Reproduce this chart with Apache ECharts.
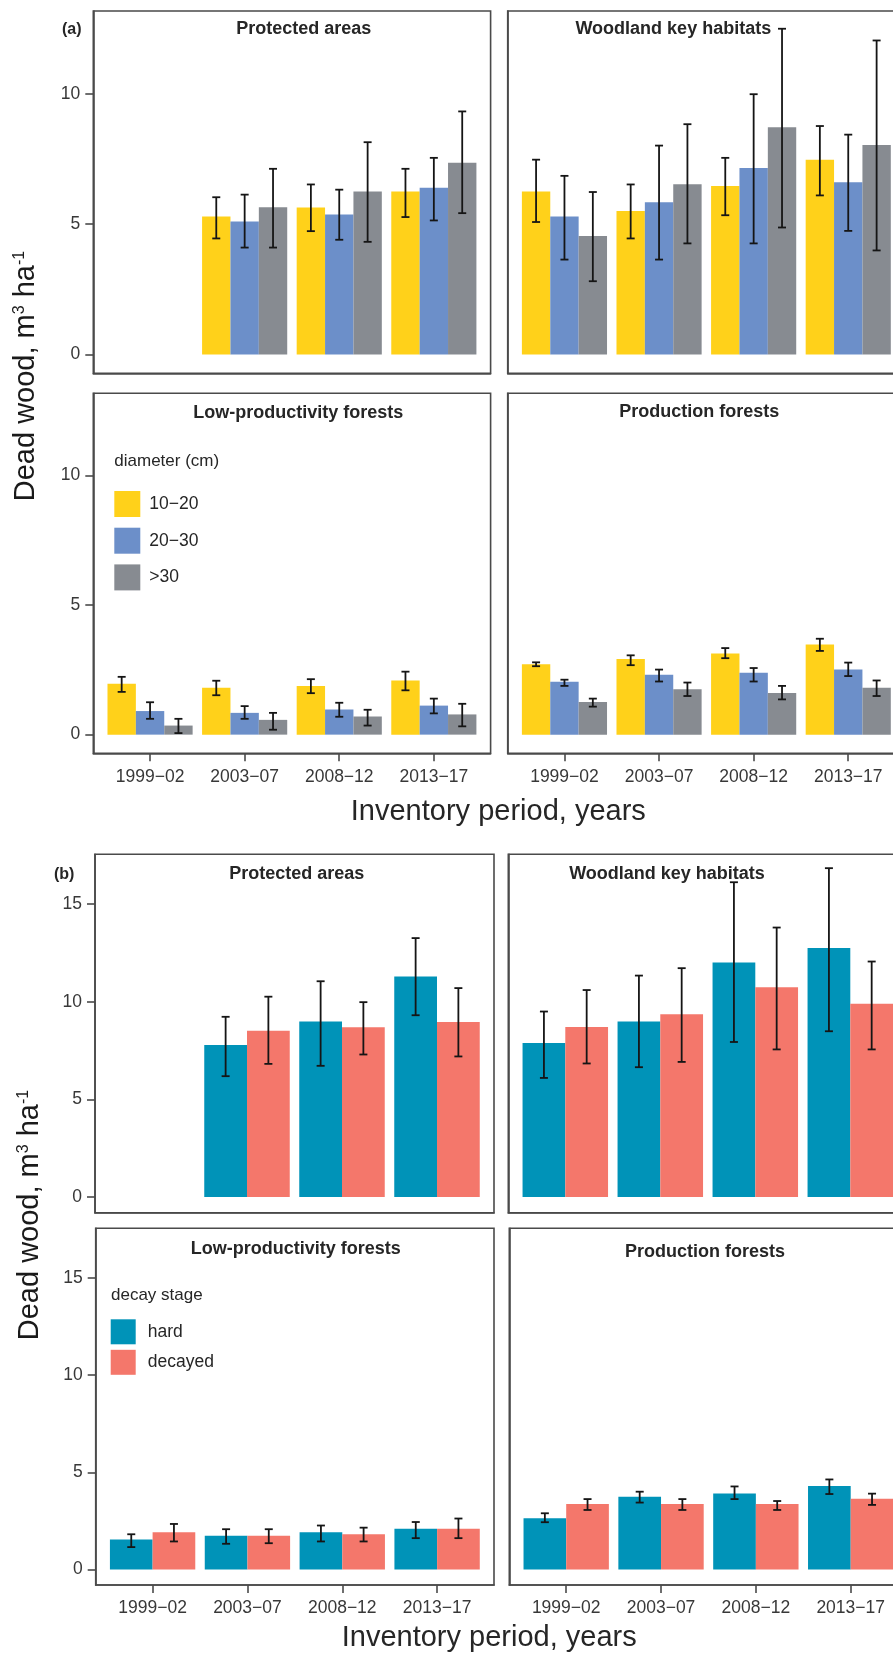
<!DOCTYPE html>
<html>
<head>
<meta charset="utf-8">
<script src="https://cdn.jsdelivr.net/npm/echarts@6/dist/echarts.min.js"></script>
<style>
html,body{margin:0;padding:0;background:#fff;}
#c{width:893px;height:1656px;}
</style>
</head>
<body>
<div id="c"></div>
<script>
// ---------- categories / labels ----------
const periods = ['1999\u221202', '2003\u221207', '2008\u221212', '2013\u221217'];
const panelNames = ['Protected areas', 'Woodland key habitats', 'Low-productivity forests', 'Production forests'];
const diamGroups = ['10\u221220', '20\u221230', '>30'];
const decayGroups = ['hard', 'decayed'];
const yTicksA = [0, 5, 10];
const yTicksB = [0, 5, 10, 15];

// ---------- (a) dead wood by diameter class: [mean, lower, upper] per period ----------
const aProtected_10_20 = [null, [5.29, 4.45, 6.03], [5.64, 4.73, 6.52], [6.25, 5.27, 7.12]];
const aProtected_20_30 = [null, [5.10, 4.10, 6.13], [5.37, 4.40, 6.32], [6.39, 5.14, 7.54]];
const aProtected_30 = [null, [5.65, 4.10, 7.12], [6.25, 4.32, 8.14], [7.35, 5.42, 9.32]];

const aWoodland_10_20 = [[6.25, 5.08, 7.47], [5.50, 4.45, 6.52], [6.46, 5.34, 7.54], [7.47, 6.10, 8.76]];
const aWoodland_20_30 = [[5.29, 3.64, 6.85], [5.84, 3.64, 8.01], [7.15, 4.26, 9.98], [6.60, 4.74, 8.43]];
const aWoodland_30 = [[4.54, 2.81, 6.23], [6.53, 4.26, 8.83], [8.71, 4.87, 12.49], [8.03, 3.99, 12.04]];

const aLowProd_10_20 = [[1.96, 1.65, 2.23], [1.81, 1.52, 2.08], [1.88, 1.60, 2.14], [2.09, 1.71, 2.43]];
const aLowProd_20_30 = [[0.91, 0.61, 1.25], [0.84, 0.61, 1.10], [0.97, 0.69, 1.23], [1.12, 0.82, 1.39]];
const aLowProd_30 = [[0.35, 0.06, 0.61], [0.57, 0.19, 0.84], [0.70, 0.35, 0.96], [0.78, 0.32, 1.19]];

const aProduction_10_20 = [[2.72, 2.64, 2.79], [2.92, 2.68, 3.06], [3.13, 2.95, 3.34], [3.48, 3.23, 3.70]];
const aProduction_20_30 = [[2.04, 1.88, 2.12], [2.31, 2.05, 2.51], [2.39, 2.05, 2.57], [2.51, 2.26, 2.78]];
const aProduction_30 = [[1.26, 1.08, 1.39], [1.75, 1.49, 2.01], [1.61, 1.36, 1.88], [1.81, 1.49, 2.09]];

// ---------- (b) dead wood by decay stage: [mean, lower, upper] per period ----------
const bProtected_hard = [null, [7.78, 6.19, 9.23], [8.99, 6.72, 11.05], [11.29, 9.31, 13.26]];
const bProtected_decayed = [null, [8.52, 6.82, 10.26], [8.69, 7.30, 9.98], [8.97, 7.20, 10.70]];

const bWoodland_hard = [[7.89, 6.10, 9.50], [8.99, 6.65, 11.34], [12.01, 7.94, 16.12], [12.75, 8.49, 16.84]];
const bWoodland_decayed = [[8.71, 6.84, 10.60], [9.36, 6.92, 11.72], [10.74, 7.56, 13.80], [9.90, 7.56, 12.06]];

const bLowProd_hard = [[1.54, 1.15, 1.81], [1.73, 1.32, 2.07], [1.91, 1.44, 2.26], [2.10, 1.61, 2.44]];
const bLowProd_decayed = [[1.91, 1.44, 2.34], [1.73, 1.35, 2.07], [1.81, 1.44, 2.15], [2.10, 1.61, 2.62]];

const bProduction_hard = [[2.63, 2.43, 2.89], [3.74, 3.44, 4.00], [3.91, 3.62, 4.27], [4.29, 3.88, 4.63]];
const bProduction_decayed = [[3.37, 3.06, 3.62], [3.37, 3.06, 3.62], [3.37, 3.06, 3.52], [3.64, 3.32, 3.90]];

// ---------- styling ----------
const diamColors = ['#FFD11A', '#6C8FC9', '#878B91'];
const decayColors = ['#0093B8', '#F4776B'];
const FONT = '"Liberation Sans", Arial, Helvetica, sans-serif';
const TXT = '#383838';

const panelsA = [
  {grid: {left: 93.3, top: 11, width: 397.3, height: 362.3}, series: [aProtected_10_20, aProtected_20_30, aProtected_30], showX: false, showY: true},
  {grid: {left: 507.7, top: 11, width: 397.3, height: 362.3}, series: [aWoodland_10_20, aWoodland_20_30, aWoodland_30], showX: false, showY: false},
  {grid: {left: 93.3, top: 393.3, width: 397.3, height: 360}, series: [aLowProd_10_20, aLowProd_20_30, aLowProd_30], showX: true, showY: true},
  {grid: {left: 507.7, top: 393.3, width: 397.3, height: 360}, series: [aProduction_10_20, aProduction_20_30, aProduction_30], showX: true, showY: false}
];
const panelsB = [
  {grid: {left: 95, top: 854.3, width: 399, height: 358.4}, series: [bProtected_hard, bProtected_decayed], showX: false, showY: true},
  {grid: {left: 508.3, top: 854.3, width: 399, height: 358.4}, series: [bWoodland_hard, bWoodland_decayed], showX: false, showY: false},
  {grid: {left: 95.7, top: 1228.3, width: 398.3, height: 356.7}, series: [bLowProd_hard, bLowProd_decayed], showX: true, showY: true},
  {grid: {left: 509.3, top: 1228.3, width: 398.3, height: 356.7}, series: [bProduction_hard, bProduction_decayed], showX: true, showY: false}
];

const grids = [], xAxes = [], yAxes = [], series = [];

function makeRender(idx, n, color) {
  const w = 0.9 / n;
  return function (params, api) {
    const v = api.value(1);
    if (v == null || isNaN(v)) return;
    const x = api.value(0);
    const x0 = x - 0.45 + idx * w;
    const pTop = api.coord([x0, v]);
    const pBot = api.coord([x0 + w, 0]);
    const lo = api.coord([x0 + w / 2, api.value(2)]);
    const hi = api.coord([x0 + w / 2, api.value(3)]);
    const cap = 4;
    const ls = {stroke: '#151515', lineWidth: 1.8};
    return {
      type: 'group',
      children: [
        {type: 'rect', shape: {x: pTop[0], y: pTop[1], width: pBot[0] - pTop[0], height: pBot[1] - pTop[1]}, style: {fill: color}},
        {type: 'line', shape: {x1: lo[0], y1: lo[1], x2: hi[0], y2: hi[1]}, style: ls},
        {type: 'line', shape: {x1: lo[0] - cap, y1: lo[1], x2: lo[0] + cap, y2: lo[1]}, style: ls},
        {type: 'line', shape: {x1: hi[0] - cap, y1: hi[1], x2: hi[0] + cap, y2: hi[1]}, style: ls}
      ]
    };
  };
}

function addPanels(panels, names, colors, yMin, yMax, yTicks, xLabelMargin) {
  panels.forEach(function (p) {
    const gi = grids.length;
    const g = p.grid;
    grids.push({
      show: true, borderColor: '#4a4a4a', borderWidth: 1.6, backgroundColor: 'transparent',
      outerBoundsMode: 'none', containLabel: false,
      left: g.left, top: g.top, right: 893 - g.left - g.width, bottom: 1656 - g.top - g.height
    });
    xAxes.push({
      type: 'value', gridIndex: gi, min: 0.4, max: 4.6,
      axisLine: {show: true, onZero: false, lineStyle: {color: '#4a4a4a', width: 1.6}},
      splitLine: {show: false},
      axisTick: {show: p.showX, customValues: [1, 2, 3, 4], length: 8, lineStyle: {color: '#4a4a4a', width: 1.6}},
      axisLabel: {show: p.showX, customValues: [1, 2, 3, 4], margin: xLabelMargin, fontSize: 17.5, color: TXT, fontFamily: FONT,
        formatter: function (v) { return periods[Math.round(v) - 1]; }}
    });
    yAxes.push({
      type: 'value', gridIndex: gi, min: yMin, max: yMax,
      axisLine: {show: true, onZero: false, lineStyle: {color: '#4a4a4a', width: 1.6}},
      splitLine: {show: false},
      axisTick: {show: p.showY, customValues: yTicks, length: 8, lineStyle: {color: '#4a4a4a', width: 1.6}},
      axisLabel: {show: p.showY, customValues: yTicks, margin: 13, fontSize: 17.5, color: TXT, fontFamily: FONT}
    });
    p.series.forEach(function (rows, si) {
      series.push({
        type: 'custom', name: names[si], xAxisIndex: gi, yAxisIndex: gi,
        itemStyle: {color: colors[si]},
        encode: {x: 0, y: 1},
        renderItem: makeRender(si, p.series.length, colors[si]),
        data: rows.map(function (r, i) { return r ? [i + 1, r[0], r[1], r[2]] : [i + 1, '-', '-', '-']; }),
        silent: true
      });
    });
  });
}

addPanels(panelsA, diamGroups, diamColors, -0.72, 13.17, yTicksA, 15);
addPanels(panelsB, decayGroups, decayColors, -0.8, 17.55, yTicksB, 14);

function panelTitle(text, x, y) {
  return {type: 'text', x: x, y: y, z: 0, style: {text: text, fontSize: 18, fontWeight: 'bold', fontFamily: FONT, fill: '#262626', align: 'center', verticalAlign: 'middle'}};
}
function plainText(text, x, y, size, align, bold) {
  return {type: 'text', x: x, y: y, style: {text: text, fontSize: size, fontWeight: bold ? 'bold' : 'normal', fontFamily: FONT, fill: '#262626', align: align || 'center', verticalAlign: 'middle'}};
}
function yTitle(x, y) {
  return {type: 'text', x: x, y: y, rotation: Math.PI / 2, style: {
    text: '{n|Dead wood, m}{s|3}{n| ha}{s|-1}', align: 'center', verticalAlign: 'middle', fill: '#1a1a1a',
    rich: {n: {fontSize: 29, fontFamily: FONT, fill: '#1a1a1a'}, s: {fontSize: 16, fontFamily: FONT, fill: '#1a1a1a', verticalAlign: 'top'}}
  }};
}

const graphics = [
  plainText('(a)', 71.7, 30, 16, 'center', true),
  plainText('(b)', 64.2, 874.3, 16, 'center', true),
  panelTitle(panelNames[0], 303.8, 29),
  panelTitle(panelNames[1], 673.3, 29),
  panelTitle(panelNames[2], 298.3, 413.3),
  panelTitle(panelNames[3], 699.2, 412.3),
  panelTitle(panelNames[0], 296.8, 874.3),
  panelTitle(panelNames[1], 667, 874.3),
  panelTitle(panelNames[2], 295.8, 1249),
  panelTitle(panelNames[3], 705, 1252.3),
  plainText('diameter (cm)', 114.3, 461, 17, 'left'),
  plainText('decay stage', 111, 1295.7, 17, 'left'),
  plainText('Inventory period, years', 498.3, 812, 29, 'center'),
  plainText('Inventory period, years', 489.2, 1638, 29, 'center'),
  yTitle(26, 376),
  yTitle(30, 1215)
];

const option = {
  animation: false,
  backgroundColor: '#ffffff',
  grid: grids,
  xAxis: xAxes,
  yAxis: yAxes,
  legend: [
    {data: diamGroups.map(function (n) { return {name: n, icon: 'rect'}; }), orient: 'vertical', left: 114.3, top: 491, padding: 0,
      itemWidth: 26, itemHeight: 26, itemGap: 10.7, selectedMode: false,
      textStyle: {fontSize: 17.5, fontFamily: FONT, color: '#262626', padding: [0, 0, 0, 4]}},
    {data: decayGroups.map(function (n) { return {name: n, icon: 'rect'}; }), orient: 'vertical', left: 110.7, top: 1319.3, padding: 0,
      itemWidth: 25, itemHeight: 25, itemGap: 5.5, selectedMode: false,
      textStyle: {fontSize: 17.5, fontFamily: FONT, color: '#262626', padding: [0, 0, 0, 7]}}
  ],
  graphic: graphics,
  series: series
};

const chart = echarts.init(document.getElementById('c'), null, {renderer: 'canvas'});
chart.setOption(option);
</script>
</body>
</html>
